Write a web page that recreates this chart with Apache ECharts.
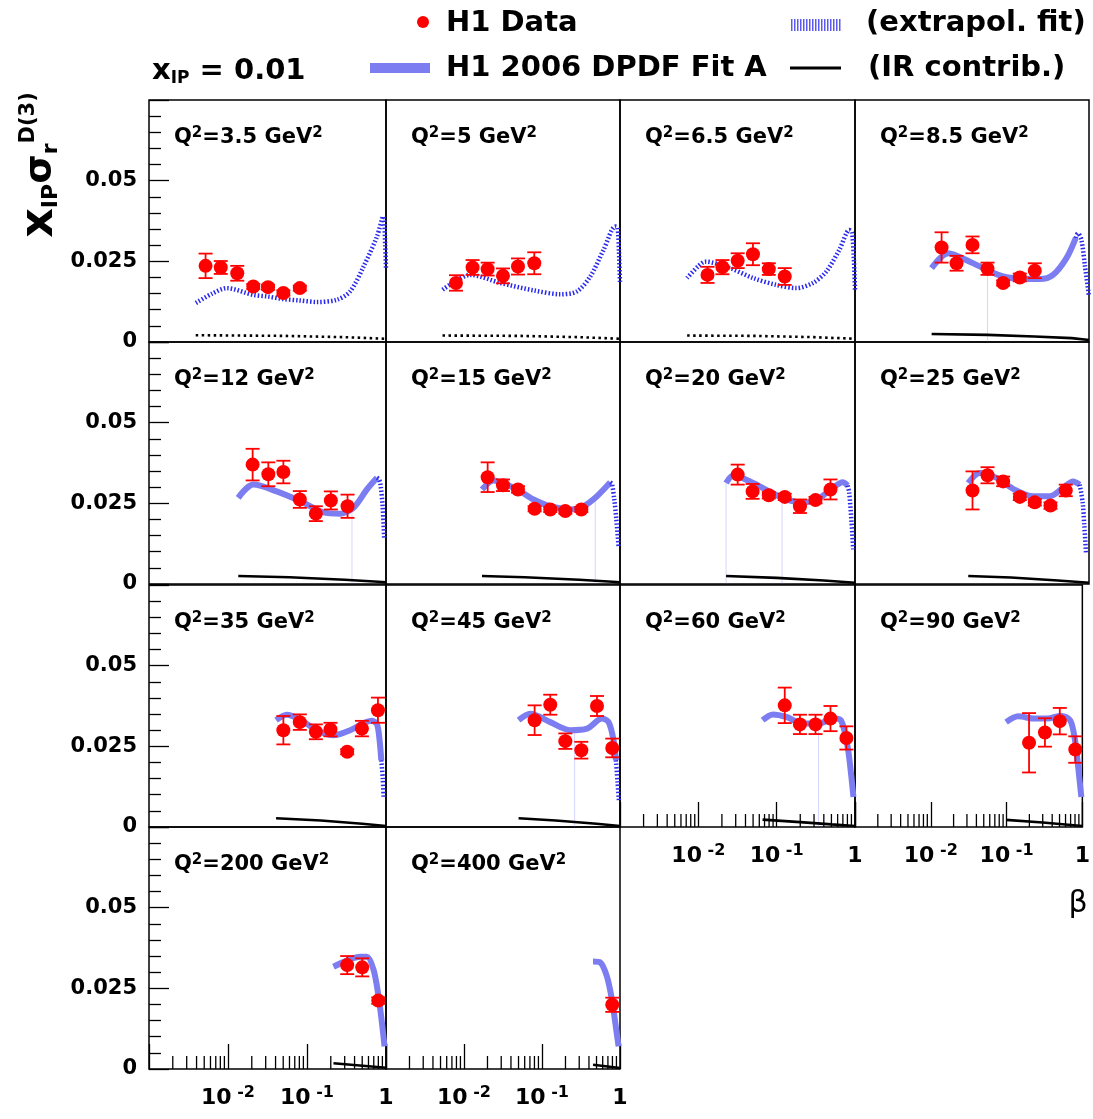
<!DOCTYPE html>
<html><head><meta charset="utf-8">
<script src="https://cdn.jsdelivr.net/npm/echarts/dist/echarts.min.js"></script>
<style>html,body{margin:0;padding:0;background:#fff}#c{width:1093px;height:1119px}</style>
</head><body><div id="c"></div>
<script>
// ---------------- data ----------------
const q2Labels = ['3.5','5','6.5','8.5','12','15','20','25','35','45','60','90','200','400'];

const dataBeta = [
 [0.0052, 0.0081, 0.0131, 0.0209, 0.0321, 0.0502, 0.0811],
 [0.00789, 0.01288, 0.0201, 0.0316, 0.0492, 0.0796],
 [0.0131, 0.0203, 0.0318, 0.0498, 0.0794, 0.1268],
 [0.01288, 0.02004, 0.0321, 0.0500, 0.0793, 0.1297, 0.2018],
 [0.0205, 0.0324, 0.0502, 0.0811, 0.1294, 0.2004, 0.326],
 [0.0201, 0.0316, 0.0492, 0.0804, 0.1276, 0.1991, 0.3192],
 [0.0318, 0.0493, 0.0794, 0.1268, 0.1982, 0.3133, 0.4864],
 [0.0321, 0.0500, 0.0793, 0.1297, 0.2018, 0.3206, 0.5035],
 [0.0502, 0.0811, 0.1294, 0.1982, 0.3228, 0.4955, 0.7907],
 [0.0804, 0.1276, 0.1991, 0.3192, 0.507, 0.796],
 [0.1268, 0.1982, 0.3133, 0.4864, 0.7762],
 [0.198, 0.321, 0.504, 0.807],
 [0.3228, 0.5, 0.798],
 [0.796]
];
const dataSigma = [
 [0.0236, 0.0231, 0.0213, 0.0172, 0.0170, 0.0152, 0.0167],
 [0.0183, 0.0231, 0.0226, 0.0205, 0.0234, 0.0244],
 [0.0208, 0.0232, 0.0252, 0.0272, 0.0226, 0.0203],
 [0.0293, 0.0244, 0.0301, 0.0227, 0.0183, 0.0200, 0.0221],
 [0.0370, 0.0340, 0.0347, 0.0262, 0.0218, 0.0259, 0.0241],
 [0.0331, 0.0306, 0.0293, 0.0233, 0.0231, 0.0226, 0.0231],
 [0.0339, 0.0287, 0.0275, 0.0270, 0.0241, 0.0260, 0.0293],
 [0.0290, 0.0337, 0.0318, 0.0270, 0.0253, 0.0243, 0.0290],
 [0.0300, 0.0325, 0.0295, 0.0302, 0.0233, 0.0305, 0.0362],
 [0.0331, 0.0379, 0.0266, 0.0238, 0.0375, 0.0245],
 [0.0377, 0.0318, 0.0318, 0.0336, 0.0276],
 [0.0261, 0.0293, 0.0328, 0.0240],
 [0.0322, 0.0315, 0.0212],
 [0.0199]
];
const dataErr = [
 [0.0038, 0.0020, 0.0023, 0.0008, 0.0008, 0.0008, 0.0008],
 [0.0024, 0.0023, 0.0020, 0.0023, 0.0025, 0.0034],
 [0.0025, 0.0022, 0.0023, 0.0034, 0.0018, 0.0026],
 [0.0047, 0.0023, 0.0026, 0.0019, 0.0008, 0.0012, 0.0023],
 [0.0049, 0.0037, 0.0035, 0.0026, 0.0023, 0.0028, 0.0036],
 [0.0046, 0.0018, 0.0010, 0.0008, 0.0008, 0.0008, 0.0008],
 [0.0031, 0.0023, 0.0010, 0.0010, 0.0021, 0.0010, 0.0031],
 [0.0059, 0.0025, 0.0015, 0.0010, 0.0010, 0.0010, 0.0018],
 [0.0044, 0.0024, 0.0023, 0.0021, 0.0008, 0.0024, 0.0039],
 [0.0046, 0.0031, 0.0024, 0.0026, 0.0031, 0.0029],
 [0.0055, 0.0030, 0.0030, 0.0039, 0.0036],
 [0.0092, 0.0044, 0.0041, 0.0041],
 [0.0028, 0.0028, 0.0010],
 [0.0022]
];

// H1 2006 DPDF Fit A (band, solid)
const fitBeta = [
 [], [], [],
 [0.00959, 0.01567, 0.02965, 0.04853, 0.0793, 0.1297, 0.2339, 0.3459, 0.514, 0.676],
 [0.01346, 0.0209, 0.0414, 0.0817, 0.1614, 0.263, 0.388, 0.574, 0.769],
 [0.01702, 0.02393, 0.04775, 0.078, 0.1276, 0.2307, 0.3412, 0.5070, 0.7516],
 [0.0226, 0.028, 0.0502, 0.0817, 0.133, 0.2163, 0.3524, 0.52, 0.6966, 0.8054],
 [0.02825, 0.0398, 0.0652, 0.1064, 0.1919, 0.3141, 0.4645, 0.6237, 0.7603],
 [0.0406, 0.0555, 0.0817, 0.133, 0.2163, 0.3524, 0.52, 0.6637, 0.7691, 0.83, 0.871],
 [0.0501, 0.0708, 0.1276, 0.2307, 0.3776, 0.5875, 0.7145, 0.828, 0.886],
 [0.0661, 0.0899, 0.133, 0.2163, 0.3524, 0.52, 0.6637, 0.8054, 0.889, 0.955],
 [0.0986, 0.1429, 0.2339, 0.3459, 0.514, 0.690, 0.80, 0.881, 0.970],
 [0.2163, 0.3199, 0.472, 0.574, 0.6966, 0.8054, 0.889, 0.959],
 [0.4508, 0.5585, 0.6808, 0.7889, 0.871, 0.959]
];
const fitSigma = [
 [], [], [],
 [0.0229, 0.0275, 0.0249, 0.0224, 0.0203, 0.0196, 0.0195, 0.0208, 0.0260, 0.0322],
 [0.0267, 0.0308, 0.0287, 0.0257, 0.0222, 0.0218, 0.0236, 0.0293, 0.0329],
 [0.0293, 0.0321, 0.0293, 0.0262, 0.0241, 0.0231, 0.0241, 0.0272, 0.0315],
 [0.0313, 0.0336, 0.0313, 0.0286, 0.0262, 0.0252, 0.0267, 0.0298, 0.0315, 0.0305],
 [0.0313, 0.0344, 0.0329, 0.0295, 0.0272, 0.0272, 0.0298, 0.0318, 0.0308],
 [0.0331, 0.0348, 0.0333, 0.0300, 0.0284, 0.0300, 0.0322, 0.0329, 0.0318, 0.0268, 0.0207],
 [0.0331, 0.0351, 0.0325, 0.0300, 0.0305, 0.0336, 0.0325, 0.0268, 0.0207],
 [0.0331, 0.0349, 0.0341, 0.0321, 0.0321, 0.0336, 0.0330, 0.0248, 0.0166, 0.0093],
 [0.0325, 0.0343, 0.0336, 0.0336, 0.0345, 0.0331, 0.0269, 0.0186, 0.0093],
 [0.0317, 0.0336, 0.0348, 0.0348, 0.0307, 0.0224, 0.0142, 0.0070],
 [0.0333, 0.0330, 0.0286, 0.0214, 0.0142, 0.0070]
];

// extrapolated fit (dotted)
const extBeta = [
 [0.00392, 0.00631, 0.00959, 0.0209, 0.0316, 0.0502, 0.0794, 0.133, 0.239, 0.352, 0.520, 0.769, 0.923, 0.977, 1],
 [0.00532, 0.00796, 0.01205, 0.0292, 0.078, 0.1718, 0.2812, 0.4159, 0.6166, 0.871, 0.93, 0.97, 1],
 [0.00716, 0.0100, 0.01225, 0.0254, 0.0502, 0.0993, 0.178, 0.290, 0.429, 0.632, 0.847, 0.912, 0.966, 1],
 [0.676, 0.72, 0.80, 0.889, 1],
 [0.769, 0.81, 0.85, 0.906, 0.95],
 [0.7516, 0.789, 0.845, 0.897, 0.959],
 [0.8054, 0.843, 0.904, 0.948],
 [0.7603, 0.83, 0.871, 0.916],
 [0.871, 0.91, 0.933],
 [0.886, 0.93, 0.968],
 [], [], [], []
];
const extSigma = [
 [0.0121, 0.0150, 0.0167, 0.0146, 0.0141, 0.0133, 0.0129, 0.0124, 0.0131, 0.0157, 0.0234, 0.0327, 0.0389, 0.0300, 0.0224],
 [0.0162, 0.0190, 0.0208, 0.0183, 0.0160, 0.0148, 0.0157, 0.0203, 0.0286, 0.0358, 0.0355, 0.0280, 0.0183],
 [0.0198, 0.0235, 0.0249, 0.0229, 0.0198, 0.0177, 0.0167, 0.0183, 0.0218, 0.0286, 0.0347, 0.0340, 0.0260, 0.0162],
 [0.0322, 0.0337, 0.0316, 0.0234, 0.0141],
 [0.0329, 0.0325, 0.0310, 0.0241, 0.0138],
 [0.0315, 0.0310, 0.0262, 0.0200, 0.0117],
 [0.0305, 0.0283, 0.0190, 0.0107],
 [0.0308, 0.0252, 0.0180, 0.0097],
 [0.0207, 0.0150, 0.0089],
 [0.0207, 0.0140, 0.0083],
 [], [], [], []
];

// IR contribution
const irBeta = [
 [0.0039, 0.05, 0.3, 1], [0.0053, 0.05, 0.3, 1], [0.0072, 0.05, 0.3, 1],
 [0.0096, 0.05, 0.2, 0.6, 1], [0.0135, 0.06, 0.3, 0.8, 1], [0.0170, 0.06, 0.3, 0.8, 1],
 [0.0226, 0.1, 0.4, 1], [0.0283, 0.1, 0.4, 1], [0.0406, 0.15, 0.5, 1], [0.0501, 0.15, 0.5, 1],
 [0.0661, 0.2, 0.5, 1], [0.0986, 0.3, 1], [0.2163, 1], [0.4508, 1]
];
const irSigma = [
 [0.0021, 0.0019, 0.0015, 0.0010], [0.0020, 0.0019, 0.0015, 0.0010], [0.0020, 0.0019, 0.0015, 0.0010],
 [0.0025, 0.0022, 0.0017, 0.0012, 0.0006], [0.0025, 0.0021, 0.0013, 0.0007, 0.0005], [0.0025, 0.0021, 0.0013, 0.0007, 0.0005],
 [0.0025, 0.0019, 0.0011, 0.0004], [0.0025, 0.0020, 0.0011, 0.0004], [0.0027, 0.0020, 0.0010, 0.0003], [0.0027, 0.0020, 0.0010, 0.0003],
 [0.0023, 0.0015, 0.0008, 0.0003], [0.0022, 0.0014, 0.0003], [0.0018, 0.0004], [0.0013, 0.0003]
];

// faint vertical drop lines of the fit band
const dropBeta  = [[], [], [], [0.0500], [0.371], [0.482], [0.0226, 0.1172], [], [], [0.262], [0.342], [], [], []];
const dropSigma = [[], [], [], [0.0224], [0.0232], [0.0268], [0.0313, 0.0268], [], [], [0.0300], [0.0321], [], [], []];

const yTickLabels = ['0', '0.025', '0.05'];
const xMinorTicks = [0.002,0.003,0.004,0.005,0.006,0.007,0.008,0.009,
                     0.02,0.03,0.04,0.05,0.06,0.07,0.08,0.09,
                     0.2,0.3,0.4,0.5,0.6,0.7,0.8,0.9];

// ---------------- layout / style ----------------
const FONT = "'DejaVu Sans', sans-serif";
const gridLeft = [149, 386, 620, 855];
const gridWidth = [237, 234, 235, 234];
const gridTop = [100, 342, 585, 827];
const gridHeight = 242;
const bottomPanels = [10, 11, 12, 13];
const FIT_COLOR = '#7d7df2';
const EXT_COLOR = '#2a2aee';

function zip(a, b) { return a.map((v, k) => [v, b[k]]); }

function xLabelFmt(v) {
  if (v > 0.99) return '{n|1}';
  if (v < 0.005) return '';
  return '{n|10}{e| ' + Math.round(Math.log10(v)) + '}';
}

function renderErr(params, api) {
  const x = api.value(0), y = api.value(1), e = api.value(2);
  const t = api.coord([x, y + e]), b = api.coord([x, y - e]);
  const cap = 7;
  const st = { stroke: '#ff0000', lineWidth: 1.8 };
  return { type: 'group', children: [
    { type: 'line', shape: { x1: t[0], y1: t[1], x2: b[0], y2: b[1] }, style: st },
    { type: 'line', shape: { x1: t[0] - cap, y1: t[1], x2: t[0] + cap, y2: t[1] }, style: st },
    { type: 'line', shape: { x1: b[0] - cap, y1: b[1], x2: b[0] + cap, y2: b[1] }, style: st }
  ]};
}
function renderDrop(params, api) {
  const p = api.coord([api.value(0), api.value(1)]);
  const z = api.coord([api.value(0), 0]);
  return { type: 'line', shape: { x1: p[0], y1: p[1], x2: z[0], y2: z[1] },
           style: { stroke: 'rgba(120,120,240,0.3)', lineWidth: 1 } };
}
function renderMinorTick(params, api) {
  const p = api.coord([api.value(0), 0]);
  return { type: 'line', shape: { x1: p[0], y1: p[1], x2: p[0], y2: p[1] - 13 },
           style: { stroke: '#000', lineWidth: 1.3 } };
}

const grids = [], xAxes = [], yAxes = [], series = [], graphics = [];
for (let i = 0; i < q2Labels.length; i++) {
  const r = Math.floor(i / 4), c = i % 4;
  const isBottom = bottomPanels.includes(i);
  grids.push({ left: gridLeft[c], top: gridTop[r], width: gridWidth[c], height: gridHeight,
               show: true, borderColor: '#000', borderWidth: 1.5, backgroundColor: 'transparent' });
  xAxes.push({
    type: 'log', logBase: 10, gridIndex: i, min: 0.001, max: 1,
    axisLine: { show: false }, splitLine: { show: false },
    axisTick: { show: isBottom, inside: true, length: 25, lineStyle: { color: '#000', width: 1.3 } },
    axisLabel: { show: isBottom, margin: 16, showMaxLabel: true, showMinLabel: true, formatter: xLabelFmt,
      rich: {
        n: { fontFamily: FONT, fontWeight: 'bold', fontSize: 22, color: '#000', lineHeight: 24, verticalAlign: 'bottom' },
        e: { fontFamily: FONT, fontWeight: 'bold', fontSize: 16, color: '#000', lineHeight: 18, verticalAlign: 'top', padding: [0, 0, 14, 0] }
      } }
  });
  yAxes.push({
    type: 'value', gridIndex: i, min: 0, max: 0.075, interval: 0.025,
    axisLine: { show: false }, splitLine: { show: false },
    axisTick: { show: c === 0, inside: true, length: 20, lineStyle: { color: '#000', width: 1.3 } },
    minorTick: { show: c === 0, splitNumber: 5, length: 12, lineStyle: { color: '#000', width: 1.3 } },
    axisLabel: { show: c === 0, margin: 12, fontFamily: FONT, fontWeight: 'bold', fontSize: 21, color: '#000',
      formatter: v => { const k = Math.round(v / 0.025); return k < yTickLabels.length ? yTickLabels[k] : ''; } }
  });
  const ax = { xAxisIndex: i, yAxisIndex: i };
  if (dropBeta[i].length) series.push(Object.assign({ type: 'custom', silent: true, z: 1,
      renderItem: renderDrop, encode: { x: 0, y: 1 }, data: zip(dropBeta[i], dropSigma[i]) }, ax));
  if (fitBeta[i].length) series.push(Object.assign({ type: 'line', silent: true, z: 2, showSymbol: false,
      smooth: 0.3, lineStyle: { color: FIT_COLOR, width: 6 }, data: zip(fitBeta[i], fitSigma[i]) }, ax));
  if (extBeta[i].length) series.push(Object.assign({ type: 'line', silent: true, z: 3, showSymbol: false,
      smooth: 0.3, lineStyle: { color: EXT_COLOR, width: 4.5, type: [1.5, 2] }, data: zip(extBeta[i], extSigma[i]) }, ax));
  series.push(Object.assign({ type: 'line', silent: true, z: 3, showSymbol: false,
      lineStyle: { color: '#000', width: 2.6, type: i < 3 ? [2.5, 3.5] : 'solid' }, data: zip(irBeta[i], irSigma[i]) }, ax));
  series.push(Object.assign({ type: 'scatter', silent: true, z: 5, symbol: 'circle', symbolSize: 14,
      itemStyle: { color: '#ff0000', opacity: 1 }, data: zip(dataBeta[i], dataSigma[i]) }, ax));
  series.push(Object.assign({ type: 'custom', silent: true, z: 6, renderItem: renderErr,
      encode: { x: 0, y: 1 }, data: dataBeta[i].map((b, k) => [b, dataSigma[i][k], dataErr[i][k]]) }, ax));
  if (isBottom) series.push(Object.assign({ type: 'custom', silent: true, z: 4, renderItem: renderMinorTick,
      encode: { x: 0, y: 1 }, data: xMinorTicks.map(b => [b, 0]) }, ax));

  // Q^2 label
  graphics.push({ type: 'text', x: gridLeft[c] + 25, y: gridTop[r] + 37, silent: true,
    style: { text: '{q|Q}{s|2}{q|=' + q2Labels[i] + ' GeV}{s|2}', verticalAlign: 'middle', align: 'left',
      rich: {
        q: { fontFamily: FONT, fontWeight: 'bold', fontSize: 21, fill: '#000', lineHeight: 23, verticalAlign: 'bottom' },
        s: { fontFamily: FONT, fontWeight: 'bold', fontSize: 15, fill: '#000', lineHeight: 15, verticalAlign: 'top', padding: [0, 0, 14, 0] }
      } } });
}

// legend / titles
const LEG = { fontFamily: FONT, fontWeight: 'bold', fontSize: 29, fill: '#000' };
graphics.push(
  { type: 'circle', shape: { cx: 423, cy: 22, r: 6 }, style: { fill: '#ff0000' } },
  { type: 'text', x: 446, y: 23, style: Object.assign({ text: 'H1 Data', verticalAlign: 'middle' }, LEG) },
  { type: 'line', shape: { x1: 791, y1: 25, x2: 842, y2: 25 }, style: { stroke: '#5a5af0', lineWidth: 12, lineDash: [1.5, 1.5] } },
  { type: 'text', x: 866, y: 23, style: Object.assign({ text: '(extrapol. fit)', verticalAlign: 'middle' }, LEG) },
  { type: 'rect', shape: { x: 370, y: 63, width: 60, height: 10 }, style: { fill: FIT_COLOR } },
  { type: 'text', x: 446, y: 68, style: Object.assign({ text: 'H1 2006 DPDF Fit A', verticalAlign: 'middle' }, LEG) },
  { type: 'line', shape: { x1: 790, y1: 68, x2: 841, y2: 68 }, style: { stroke: '#000', lineWidth: 3 } },
  { type: 'text', x: 868, y: 68, style: Object.assign({ text: '(IR contrib.)', verticalAlign: 'middle' }, LEG) },
  { type: 'text', x: 152, y: 72, style: { text: '{b|x}{u|IP}{b| = 0.01}', verticalAlign: 'middle', align: 'left',
      rich: { b: Object.assign({ lineHeight: 30, verticalAlign: 'top' }, LEG),
              u: { fontFamily: FONT, fontWeight: 'bold', fontSize: 17, fill: '#000', lineHeight: 17, verticalAlign: 'bottom', padding: [16, 0, 0, 0] } } } },
  { type: 'text', x: 40, y: 165, rotation: Math.PI / 2, style: {
      text: '{x|x}{u|IP}{g|σ}{u|r}{p|D(3)}', align: 'center', verticalAlign: 'middle',
      rich: {
        x: { fontFamily: FONT, fontWeight: 'bold', fontSize: 46, fill: '#000', lineHeight: 44, verticalAlign: 'middle' },
        g: { fontFamily: FONT, fontWeight: 'bold', fontSize: 38, fill: '#000', lineHeight: 44, verticalAlign: 'middle' },
        u: { fontFamily: FONT, fontWeight: 'bold', fontSize: 22, fill: '#000', lineHeight: 22, verticalAlign: 'bottom' },
        p: { fontFamily: FONT, fontWeight: 'bold', fontSize: 21, fill: '#000', lineHeight: 22, verticalAlign: 'top' }
      } } },
  { type: 'text', x: 1078, y: 904, style: { text: 'β', fontFamily: FONT, fontSize: 30, fill: '#000', align: 'center', verticalAlign: 'middle' } }
);

const chart = echarts.init(document.getElementById('c'), null, { renderer: 'canvas' });
chart.setOption({
  animation: false,
  backgroundColor: '#fff',
  grid: grids, xAxis: xAxes, yAxis: yAxes, series: series, graphic: graphics
});
</script></body></html>
